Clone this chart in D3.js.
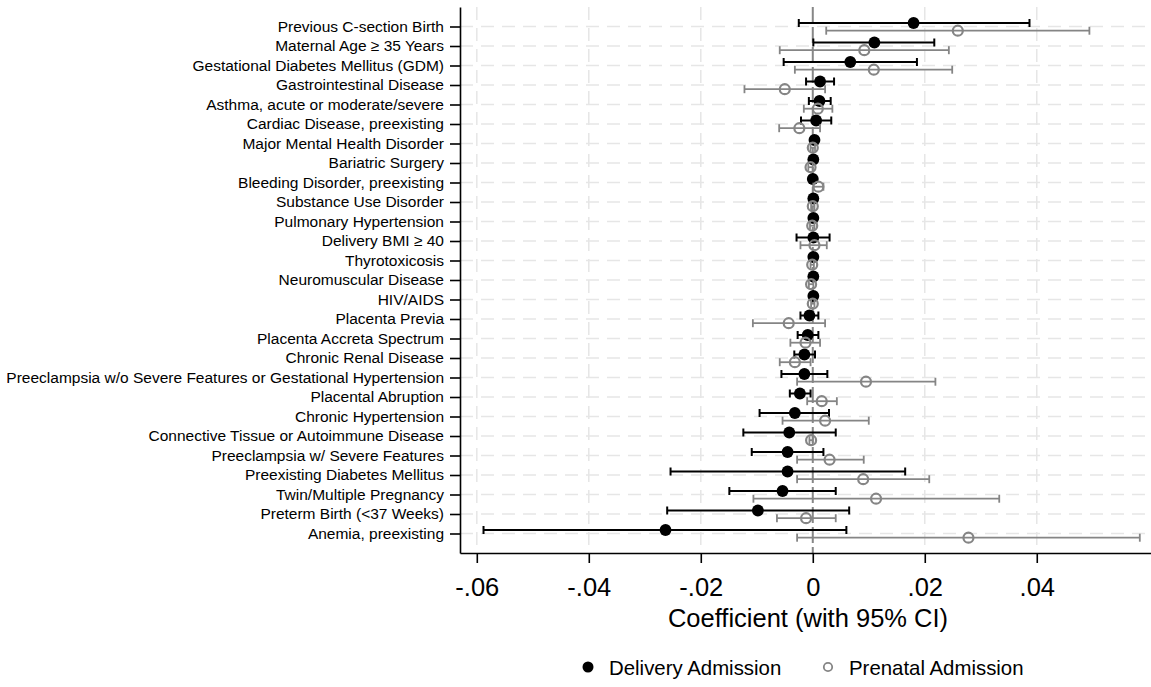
<!DOCTYPE html>
<html>
<head>
<meta charset="utf-8">
<script src="https://cdn.jsdelivr.net/npm/d3@7"></script>
<style>
  body { margin: 0; background: #fff; }
  svg { display: block; font-family: "Liberation Sans", Arial, sans-serif; }
</style>
</head>
<body>
<div class="article"></div>
<script>
// chart data
var categories = [
  "Previous C-section Birth", "Maternal Age \u2265 35 Years", "Gestational Diabetes Mellitus (GDM)",
  "Gastrointestinal Disease", "Asthma, acute or moderate/severe", "Cardiac Disease, preexisting",
  "Major Mental Health Disorder", "Bariatric Surgery", "Bleeding Disorder, preexisting",
  "Substance Use Disorder", "Pulmonary Hypertension", "Delivery BMI \u2265 40", "Thyrotoxicosis",
  "Neuromuscular Disease", "HIV/AIDS", "Placenta Previa", "Placenta Accreta Spectrum",
  "Chronic Renal Disease", "Preeclampsia w/o Severe Features or Gestational Hypertension",
  "Placental Abruption", "Chronic Hypertension", "Connective Tissue or Autoimmune Disease",
  "Preeclampsia w/ Severe Features", "Preexisting Diabetes Mellitus", "Twin/Multiple Pregnancy",
  "Preterm Birth (<37 Weeks)", "Anemia, preexisting"
];

var deliveryCoef = [0.018, 0.011, 0.0067, 0.0013, 0.0012, 0.0006, 0.0003, 0.0001, 0.0, 0.0001, 0.0001, 0.0001, 0.0001, 0.0001, 0.0001,
  -0.0006, -0.0009, -0.0015, -0.0015, -0.0023, -0.0032, -0.0042, -0.0045, -0.0045, -0.0054, -0.0098, -0.0263];
var deliveryLo = [-0.0025, 0.0001, -0.0052, -0.0012, -0.0007, -0.0021, 0.0, -0.0002, -0.0003, -0.0001, -0.0002, -0.0029, -0.0002, -0.0002, -0.0001,
  -0.0022, -0.0027, -0.0033, -0.0056, -0.0041, -0.0095, -0.0124, -0.0109, -0.0254, -0.0149, -0.026, -0.0588];
var deliveryHi = [0.0387, 0.0217, 0.0186, 0.0038, 0.0032, 0.0033, 0.0006, 0.0004, 0.0003, 0.0003, 0.0004, 0.003, 0.0004, 0.0004, 0.0003,
  0.001, 0.001, 0.0004, 0.0026, -0.0004, 0.0029, 0.0041, 0.0019, 0.0165, 0.0041, 0.0065, 0.006];

var prenatalCoef = [0.0259, 0.0092, 0.0109, -0.005, 0.0009, -0.0024, 0.0, -0.0004, 0.001, 0.0, -0.0001, 0.0003, -0.0001, -0.0003, 0.0,
  -0.0043, -0.0013, -0.0032, 0.0095, 0.0016, 0.0022, -0.0003, 0.003, 0.009, 0.0113, -0.0012, 0.0278];
var prenatalLo = [0.0024, -0.0059, -0.0032, -0.0122, -0.0016, -0.006, -0.0004, -0.0008, 0.0001, -0.0003, -0.0005, -0.0022, -0.0004, -0.0007, -0.0003,
  -0.0107, -0.004, -0.0059, -0.0028, -0.001, -0.0054, -0.0006, -0.0028, -0.0028, -0.0106, -0.0064, -0.0028];
var prenatalHi = [0.0494, 0.0243, 0.0249, 0.0022, 0.0035, 0.0013, 0.0004, 0.0, 0.0019, 0.0003, 0.0003, 0.0025, 0.0002, 0.0001, 0.0003,
  0.0022, 0.0013, -0.0004, 0.0219, 0.0043, 0.01, 0.0, 0.0091, 0.0208, 0.0333, 0.0041, 0.0584];

var xTicks = [-0.06, -0.04, -0.02, 0, 0.02, 0.04];
var xTickLabels = ["-.06", "-.04", "-.02", "0", ".02", ".04"];
var seriesNames = ["Delivery Admission", "Prenatal Admission"];
var xTitle = "Coefficient (with 95% CI)";

//setting svg dimension
var svgWidth = 1151;
var svgHeight = 687;

//plot area edges
var plot = { left: 460, right: 1151, top: 7, bottom: 553 };

var svg = d3.select(".article")
  .append("svg")
  .attr("width", svgWidth)
  .attr("height", svgHeight);

var xScale = d3.scaleLinear()
  .domain([-0.063, 0.0604])
  .range([plot.left, plot.right]);

var yScale = d3.scalePoint()
  .domain(categories)
  .range([plot.top, plot.bottom])
  .padding(1);

var gridColor = "#e6e6e6";

// vertical grid lines
svg.append("g")
  .selectAll("line")
  .data(xTicks.filter(d => d !== 0))
  .enter()
  .append("line")
  .attr("x1", d => xScale(d))
  .attr("x2", d => xScale(d))
  .attr("y1", plot.top)
  .attr("y2", plot.bottom)
  .attr("stroke", gridColor)
  .attr("stroke-width", 1.5)
  .attr("stroke-dasharray", "13,8");

// horizontal grid lines
svg.append("g")
  .selectAll("line")
  .data(categories)
  .enter()
  .append("line")
  .attr("x1", plot.left)
  .attr("x2", plot.right)
  .attr("y1", d => yScale(d))
  .attr("y2", d => yScale(d))
  .attr("stroke", gridColor)
  .attr("stroke-width", 1.5)
  .attr("stroke-dasharray", "13,8");

// zero reference line
svg.append("line")
  .attr("x1", xScale(0))
  .attr("x2", xScale(0))
  .attr("y1", plot.top)
  .attr("y2", plot.bottom)
  .attr("stroke", "#878787")
  .attr("stroke-width", 2)
  .attr("stroke-dasharray", "16,4");

//axes
var leftAxis = d3.axisLeft(yScale).tickSize(10).tickSizeOuter(0).tickPadding(6);
var bottomAxis = d3.axisBottom(xScale)
  .tickValues(xTicks)
  .tickFormat((d, i) => xTickLabels[i])
  .tickSize(10)
  .tickSizeOuter(0)
  .tickPadding(15);

var yAxisG = svg.append("g")
  .attr("transform", `translate(${plot.left}, 0)`)
  .call(leftAxis);
yAxisG.selectAll("text")
  .attr("fill", "#000")
  .style("font-size", "15.5px")
  .style("font-family", "'Liberation Sans', Arial, sans-serif");

var xAxisG = svg.append("g")
  .attr("transform", `translate(0, ${plot.bottom})`)
  .call(bottomAxis);
xAxisG.selectAll("text")
  .attr("fill", "#000")
  .style("font-size", "25.5px")
  .style("font-family", "'Liberation Sans', Arial, sans-serif");

[yAxisG, xAxisG].forEach(g => {
  g.selectAll("path, line").attr("stroke", "#000").attr("stroke-width", 1.6);
});

// series: offset rows slightly up (delivery) and down (prenatal)
var series = [
  { name: seriesNames[0], coef: deliveryCoef, lo: deliveryLo, hi: deliveryHi, dy: -3.5, color: "#000", filled: true, r: 5.9, lw: 2 },
  { name: seriesNames[1], coef: prenatalCoef, lo: prenatalLo, hi: prenatalHi, dy: 4.2, color: "#858585", filled: false, r: 5, lw: 1.8 }
];

var capHalf = 4;

series.forEach(s => {
  var rows = categories.map((c, i) => ({ cat: c, coef: s.coef[i], lo: s.lo[i], hi: s.hi[i] }));
  var g = svg.append("g");

  var elem = g.selectAll("g")
    .data(rows)
    .enter()
    .append("g");

  elem.append("line")
    .attr("x1", d => xScale(d.lo))
    .attr("x2", d => xScale(d.hi))
    .attr("y1", d => yScale(d.cat) + s.dy)
    .attr("y2", d => yScale(d.cat) + s.dy)
    .attr("stroke", s.color)
    .attr("stroke-width", s.lw);

  ["lo", "hi"].forEach(k => {
    elem.append("line")
      .attr("x1", d => xScale(d[k]))
      .attr("x2", d => xScale(d[k]))
      .attr("y1", d => yScale(d.cat) + s.dy - capHalf)
      .attr("y2", d => yScale(d.cat) + s.dy + capHalf)
      .attr("stroke", s.color)
      .attr("stroke-width", s.lw);
  });

  elem.append("circle")
    .attr("cx", d => xScale(d.coef))
    .attr("cy", d => yScale(d.cat) + s.dy)
    .attr("r", s.r)
    .attr("fill", s.filled ? s.color : "none")
    .attr("stroke", s.color)
    .attr("stroke-width", s.filled ? 0 : 2.2);
});

// axis title
svg.append("text")
  .attr("x", 808)
  .attr("y", 627)
  .attr("text-anchor", "middle")
  .style("font-size", "25.5px")
  .attr("fill", "#000")
  .text(xTitle);

// legend
var legend = svg.append("g");
legend.append("circle")
  .attr("cx", 588).attr("cy", 667).attr("r", 5.5)
  .attr("fill", "#000");
legend.append("text")
  .attr("x", 609).attr("y", 674.5)
  .style("font-size", "20.4px")
  .text(seriesNames[0]);
legend.append("circle")
  .attr("cx", 828).attr("cy", 667).attr("r", 4.2)
  .attr("fill", "none").attr("stroke", "#858585").attr("stroke-width", 1.8);
legend.append("text")
  .attr("x", 849).attr("y", 674.5)
  .style("font-size", "20.4px")
  .text(seriesNames[1]);
</script>
</body>
</html>
